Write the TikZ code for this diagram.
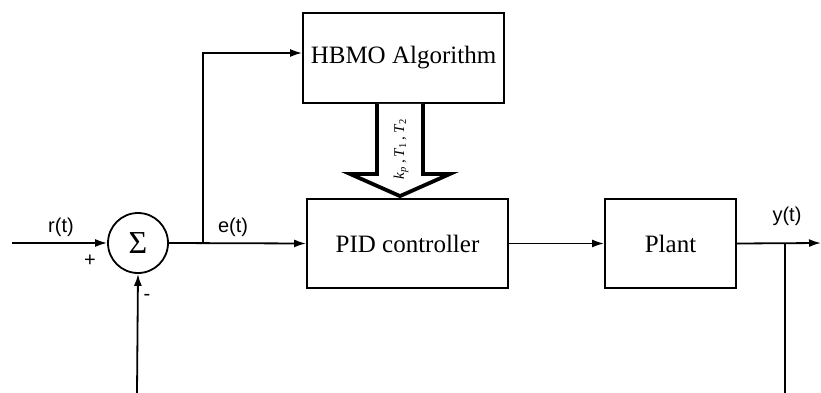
\documentclass[tikz,border=0pt]{standalone}
\usepackage{fontspec}
\setmainfont{Liberation Serif}
\newfontfamily\arialf{Liberation Sans}
\usetikzlibrary{arrows.meta,calc}
\begin{document}
\begin{tikzpicture}[x=1pt,y=-1pt,
  blk/.style={draw,line width=1.8pt,rectangle,inner sep=0pt,font=\fontsize{25}{28}\selectfont},
  sumc/.style={draw,line width=1.8pt,circle,minimum size=60pt,inner sep=0pt,font=\fontsize{32}{34}\selectfont},
  sig/.style={line width=1.8pt,-{Latex[length=12pt,width=8pt]}},
  wire/.style={line width=1.8pt},
  lbl/.style={font=\arialf\fontsize{20}{22}\selectfont,inner sep=0pt},
  fat/.style={line width=3.8pt,fill=white,line join=miter}]
\useasboundingbox (0,0) rectangle (821,393);
\node[blk,minimum width=201pt,minimum height=90pt] (hbmo) at (403.5,58) {HBMO Algorithm};
\node[blk,minimum width=201pt,minimum height=89pt] (pid) at (407.5,243.5) {PID controller};
\node[blk,minimum width=131pt,minimum height=89pt] (plant) at (670.5,243.5) {Plant};
\node[sumc] (sum) at (138,243) {Σ};
\coordinate (in) at (12,243);
\coordinate (fb) at (137,393);
\coordinate (j1) at (203,243);
\coordinate (j2) at (785,243);
\coordinate (fbend) at (785,393);
\coordinate (out) at (821,243);
% signal lines
\draw[sig] (in) -- (sum.west);
\draw[sig] (fb) -- (sum.south);
\draw[sig] (sum.east) -- (pid.west);
\draw[sig] (j1) |- ($(hbmo.west)+(0,-5)$);
\draw[sig] (pid.east) -- (plant.west);
\draw[sig] (plant.east) -- (out);
\draw[wire] (j2) -- (fbend);
% fat arrow
\draw[fat] ($(hbmo.south)+(-26.5,0)$) -- ++(0,70) -- ++(-27,0) -- ($(pid.north)+(-7.5,-2)$)
  -- ($(hbmo.south)+(46.5,70)$) -- ++(-27,0) -- ($(hbmo.south)+(19.5,0)$);
\node[rotate=90,font=\fontsize{15}{17}\selectfont,inner sep=0pt] (par) at (401,149)
  {\textit{k}\textsubscript{\textit{p}}\,,\,\textit{T}\textsubscript{1}\,,\,\textit{T}\textsubscript{2}};
% labels
\node[lbl] (lr) at (61,227) {r(t)};
\node[lbl] (le) at (233,227) {e(t)};
\node[lbl] (ly) at (787,216) {y(t)};
\node[lbl] (lp) at (90,261) {+};
\node[lbl] (lm) at (147,297) {-};
\end{tikzpicture}
\end{document}
